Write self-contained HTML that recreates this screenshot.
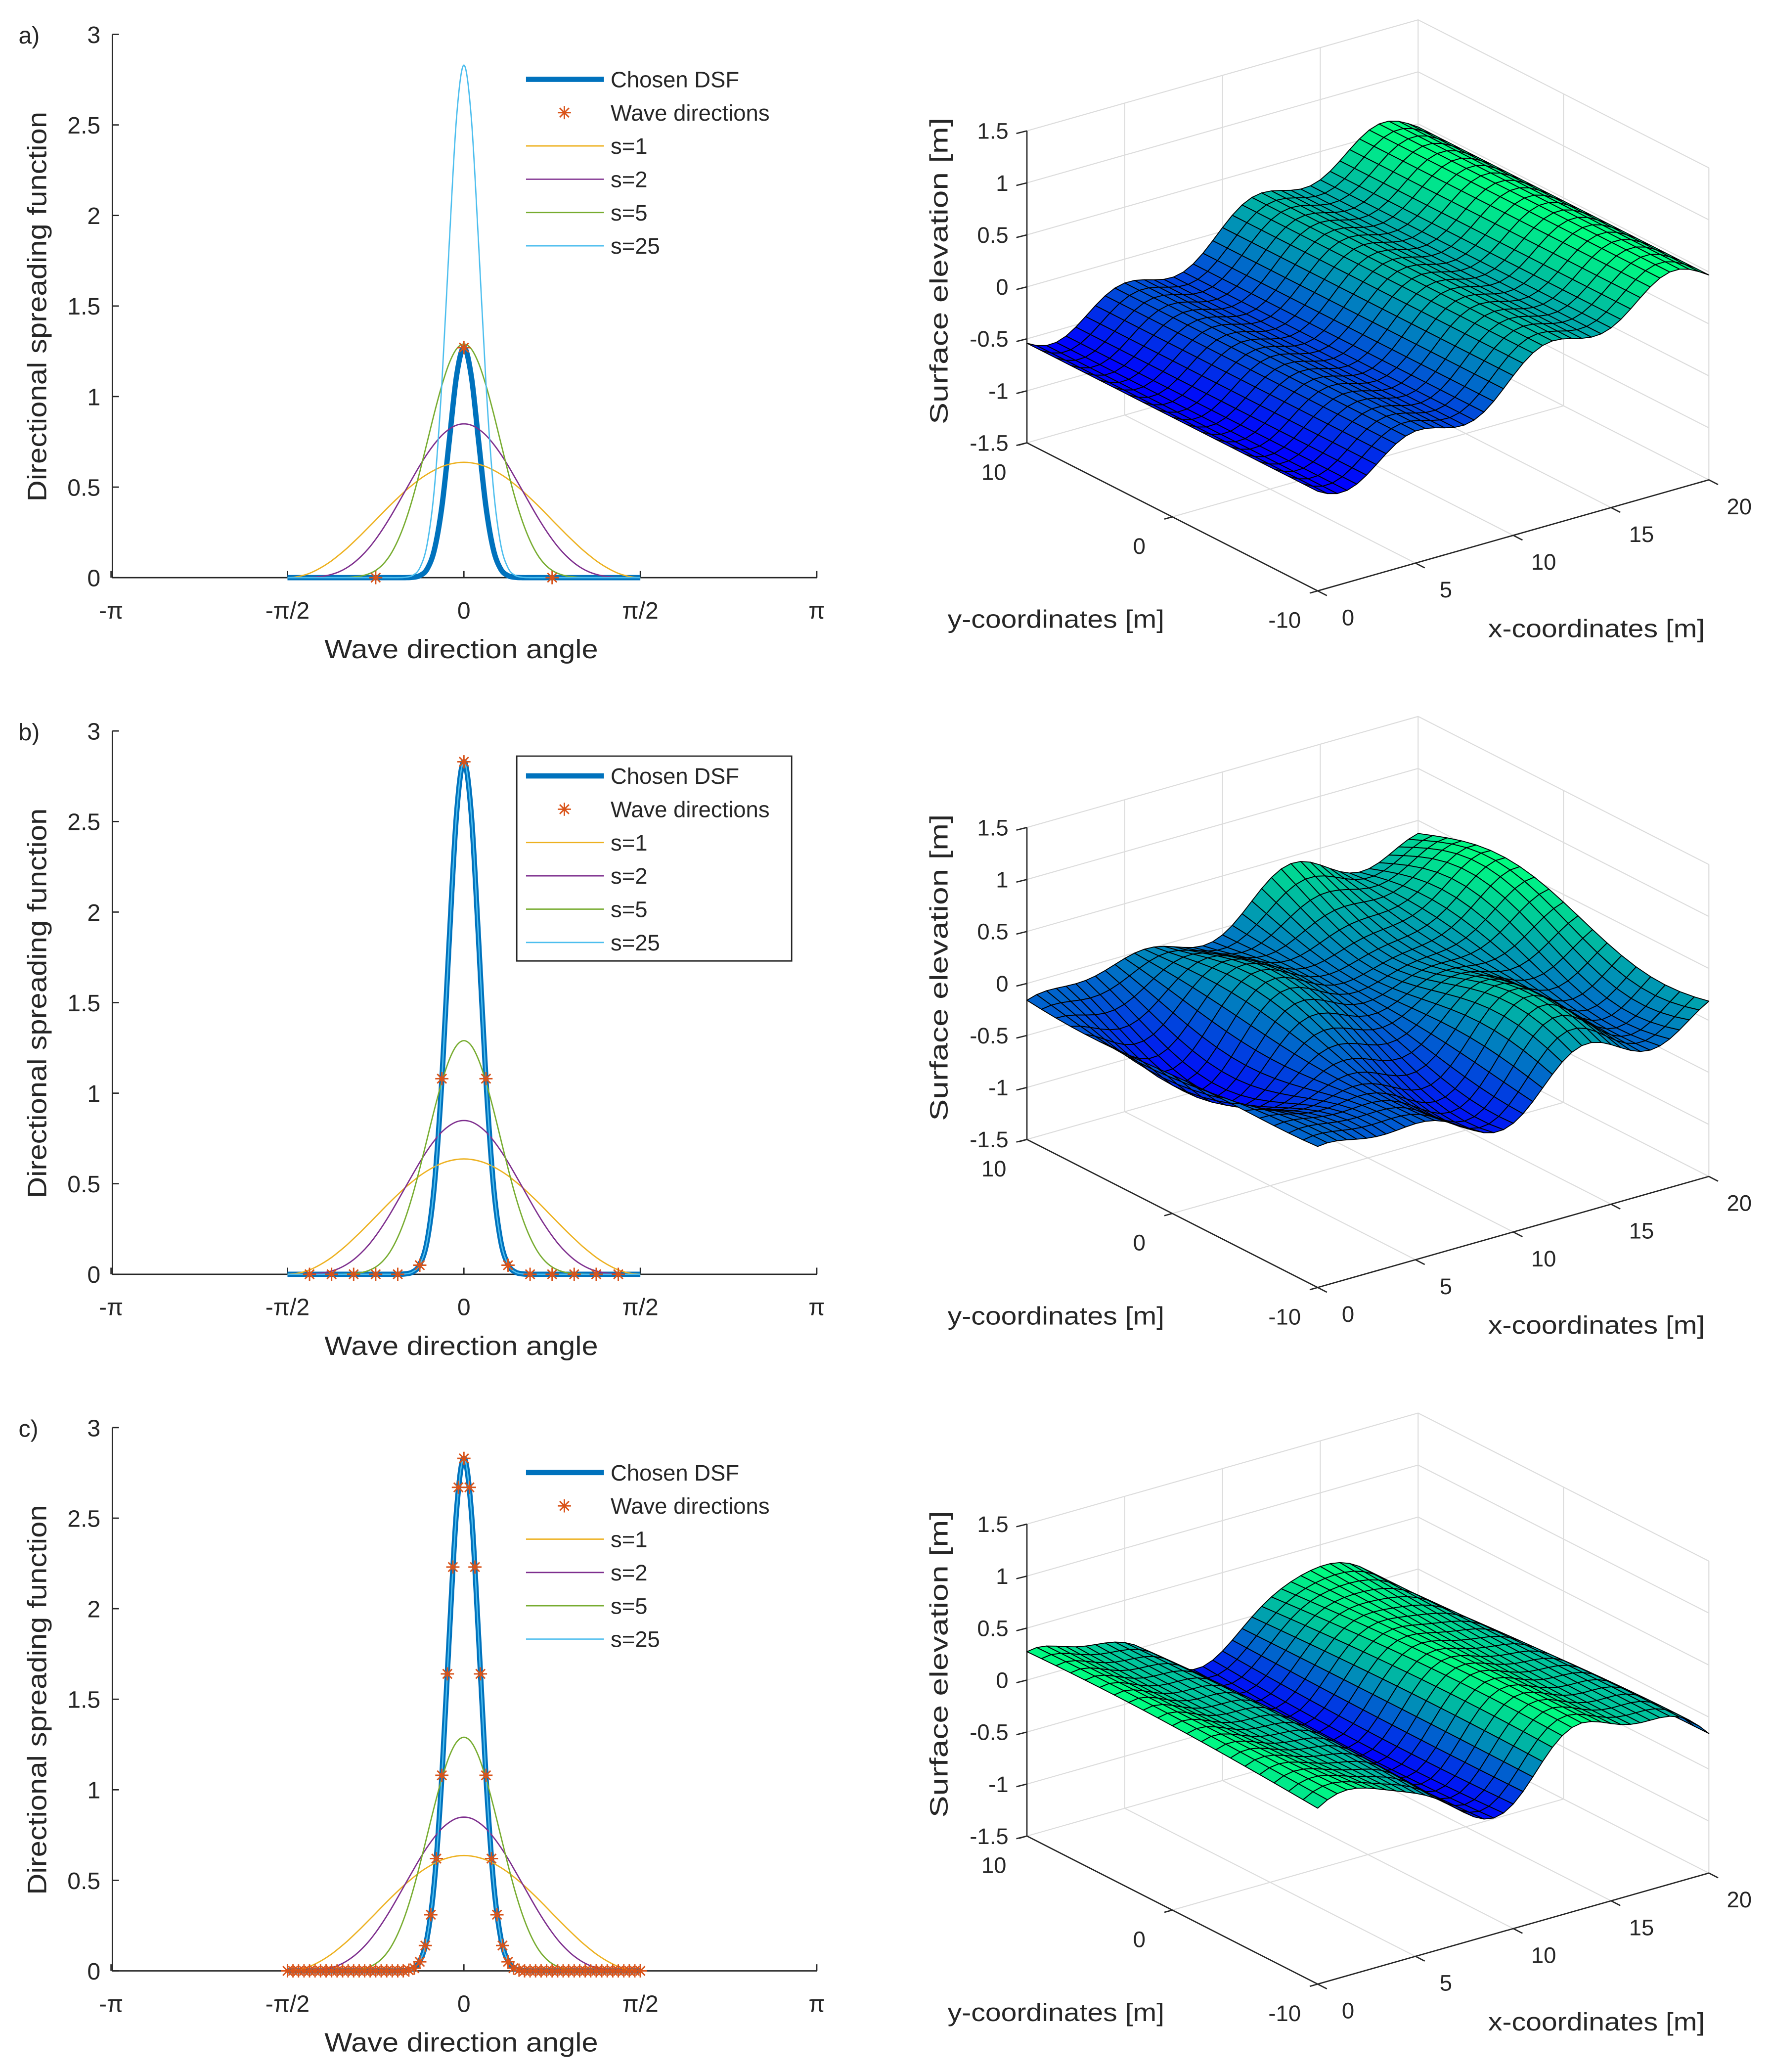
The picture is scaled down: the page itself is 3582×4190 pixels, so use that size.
<!DOCTYPE html>
<html><head><meta charset="utf-8">
<style>
html,body{margin:0;padding:0;background:#fff;}
svg{display:block;}
text{font-family:"Liberation Sans",Arial,sans-serif;fill:#262626;}
</style></head>
<body>
<svg id="fig" xmlns="http://www.w3.org/2000/svg" width="3582" height="4190" viewBox="0 0 1340 1567.5">
<rect x="0" y="0" width="1340" height="1567.5" fill="#fff"/>
</svg>
<script>
// ===== DSF chart data (angles in units of pi/48, half-profiles from 0 to pi/2) =====
const angleStepsHalf = [0,1,2,3,4,5,6,7,8,9,10,11,12,13,14,15,16,17,18,19,20,21,22,23,24];
const s1Values  = [.637,.634,.626,.613,.594,.571,.544,.512,.478,.440,.401,.360,.318,.277,.236,.197,.159,.125,.093,.066,.043,.024,.011,.003,0];
const s2Values  = [.849,.842,.820,.786,.739,.683,.619,.549,.478,.406,.336,.271,.212,.160,.117,.081,.053,.032,.018,.009,.004,.001,0,0,0];
const s5Values  = [1.29,1.263,1.184,1.062,.912,.748,.585,.434,.306,.204,.127,.074,.040,.020,.009,.004,.001,0,0,0,0,0,0,0,0];
const s25Values = [2.83,2.542,1.842,1.073,.500,.185,.054,.012,.002,0,0,0,0,0,0,0,0,0,0,0,0,0,0,0,0];
const chosenAValues = [1.27,1.114,.753,.391,.157,.048,.011,.002,0,0,0,0,0,0,0,0,0,0,0,0,0,0,0,0,0];
// wave direction markers (angle = k * pi / denom, value)
const starsAK = [-1,0,1];          const starsADen = 4;
const starsAV = [0,1.27,0];
const starsBK = [-7,-6,-5,-4,-3,-2,-1,0,1,2,3,4,5,6,7]; const starsBDen = 16;
const starsBV = [0,0,0,0,0,.05,1.08,2.83,1.08,.05,0,0,0,0,0];
const starsCHalf = [2.83,2.67,2.23,1.64,1.08,.62,.31,.14,.05,.015,.004,0,0,0,0,0,0,0,0,0,0,0,0,0,0,0,0,0,0,0,0,0,0];
const starsCDen = 64;
const yTicks = [0,0.5,1,1.5,2,2.5,3];
const yTickLabels = ['0','0.5','1','1.5','2','2.5','3'];
const xTicks = [-1,-0.5,0,0.5,1];
const xTickLabels = ['-\u03c0','-\u03c0/2','0','\u03c0/2','\u03c0'];
const legendLabels = ['Chosen DSF','Wave directions','s=1','s=2','s=5','s=25'];
// ===== surface wave components per panel =====
const surfAAmp=[0.5,0.13], surfALen=[40,6.7], surfADir=[0,0], surfAPh=[Math.PI,1.9];
const surfBAmp=[0.3,0.12,0.12,0.1], surfBLen=[40,7,10,9], surfBDir=[25,0,30,-25], surfBPh=[3.0,0.5,1,2];
const surfCAmp=[0.3,0.07,0.06], surfCLen=[13,6,7], surfCDir=[0,5,-6], surfCPh=[-0.967,0,1];
const zTicks=[-1.5,-1,-0.5,0,0.5,1,1.5];
const zTickLabels=['-1.5','-1','-0.5','0','0.5','1','1.5'];
const xGridTicks=[0,5,10,15,20];
const yGridTicks=[10,0,-10];

const NS='http://www.w3.org/2000/svg';
const svg=document.getElementById('fig');
function mk(tag,attrs,parent){const e=document.createElementNS(NS,tag);for(const k in attrs)e.setAttribute(k,attrs[k]);(parent||svg).appendChild(e);return e;}
function txt(str,attrs,parent){const e=mk('text',attrs,parent);e.textContent=str;return e;}

const COLORS={chosen:'#0072BD',s1:'#EDB120',s2:'#7E2F8E',s5:'#77AC30',s25:'#4DBEEE',star:'#D95319'};

function catmull(pts){
  let d='M'+pts[0][0].toFixed(2)+' '+pts[0][1].toFixed(2);
  for(let i=0;i<pts.length-1;i++){
    const p0=pts[Math.max(0,i-1)],p1=pts[i],p2=pts[i+1],p3=pts[Math.min(pts.length-1,i+2)];
    const c1=[p1[0]+(p2[0]-p0[0])/6,p1[1]+(p2[1]-p0[1])/6];
    const c2=[p2[0]-(p3[0]-p1[0])/6,p2[1]-(p3[1]-p1[1])/6];
    d+=' C'+c1[0].toFixed(2)+' '+c1[1].toFixed(2)+' '+c2[0].toFixed(2)+' '+c2[1].toFixed(2)+' '+p2[0].toFixed(2)+' '+p2[1].toFixed(2);
  }
  return d;
}
function mirror(half){const out=[];for(let i=half.length-1;i>0;i--)out.push(half[i]);return out.concat(half);}

function star(g,cx,cy,r){
  const e=mk('path',{d:`M${cx} ${cy-r}V${cy+r}M${cx-r} ${cy}H${cx+r}M${cx-r*.7} ${cy-r*.7}L${cx+r*.7} ${cy+r*.7}M${cx-r*.7} ${cy+r*.7}L${cx+r*.7} ${cy-r*.7}`,stroke:COLORS.star,'stroke-width':1.1,fill:'none'},g);
  return e;
}

function dsfPanel(off,label,chosenHalf,starAngles,starVals,box){
  const g=mk('g',{});
  
  
  const X=a=>351+a*(267/Math.PI);
  const Y=v=>437+off-v*137;
  const ax=mk('path',{d:`M85 ${Y(3)}V${Y(0)}H618`,stroke:'#262626','stroke-width':1,fill:'none'},g);
  
  
  yTicks.forEach((t,i)=>{
    const tk=mk('line',{x1:85,x2:90,y1:Y(t),y2:Y(t),stroke:'#262626','stroke-width':1},g);
    
    
    const tl=txt(yTickLabels[i],{x:76,y:Y(t)+6.5,'text-anchor':'end','font-size':18},g);
    
    
  });
  xTicks.forEach((t,i)=>{
    const xx=X(t*Math.PI);
    const tk=mk('line',{x1:xx,x2:xx,y1:Y(0),y2:Y(0)-5,stroke:'#262626','stroke-width':1},g);
    
    
    const tl=txt(xTickLabels[i],{x:xx,y:Y(0)+31,'text-anchor':'middle','font-size':18},g);
    
    
  });
  const xt=txt('Wave direction angle',{x:349,y:Y(0)+61,'text-anchor':'middle','font-size':20,textLength:207,lengthAdjust:'spacingAndGlyphs'},g);
  
  
  const yt=txt('Directional spreading function',{x:0,y:0,'text-anchor':'middle','font-size':20,textLength:295,lengthAdjust:'spacingAndGlyphs',transform:`translate(35 ${232+off}) rotate(-90)`},g);
  
  
  const pl=txt(label,{x:14,y:33+off,'font-size':18},g);
  
  
  const angs=mirror(angleStepsHalf).map((k,i)=> (i<24?-1:1)*k*Math.PI/48);
  function curve(half,color,w,name){
    const vals=mirror(half);
    const pts=angs.map((a,i)=>[X(a),Y(vals[i])]);
    const p=mk('path',{d:catmull(pts),stroke:color,'stroke-width':w,fill:'none','stroke-linejoin':'round'},g);
    
    
  }
  curve(chosenHalf,COLORS.chosen,4,'chosen-dsf-line');
  curve(s1Values,COLORS.s1,1,'s1-line');
  curve(s2Values,COLORS.s2,1,'s2-line');
  curve(s5Values,COLORS.s5,1,'s5-line');
  curve(s25Values,COLORS.s25,1,'s25-line');
  starAngles.forEach((a,i)=>{
    const s=star(g,X(a),Y(starVals[i]),5);
    
    
  });
  const lg=mk('g',{},g);
  
  
  if(box){
    const r=mk('rect',{x:391,y:572-527+off,width:208,height:155,fill:'#fff',stroke:'#262626','stroke-width':1},lg);
    
    
  }
  const lc=[COLORS.chosen,null,COLORS.s1,COLORS.s2,COLORS.s5,COLORS.s25];
  legendLabels.forEach((l,i)=>{
    const yy=60+off+i*25.2;
    if(lc[i]){
      const ln=mk('line',{x1:398,x2:457,y1:yy,y2:yy,stroke:lc[i],'stroke-width':i===0?4:1},lg);
      
      
    } else {
      const s=star(lg,427,yy,5);
      
      
    }
    const t=txt(l,{x:462,y:yy+6,'font-size':17,fill:'#000'},lg);
    
    
  });
}

const starsAAng=starsAK.map(k=>k*Math.PI/starsADen);
const starsBAng=starsBK.map(k=>k*Math.PI/starsBDen);
const starsCVals=mirror(starsCHalf);
const starsCAng=starsCVals.map((v,i)=>(i-32)*Math.PI/starsCDen);
dsfPanel(0,'a)',chosenAValues,starsAAng,starsAV,false);
dsfPanel(527,'b)',s25Values,starsBAng,starsBV,true);
dsfPanel(1054,'c)',s25Values,starsCAng,starsCVals,false);

function surfPanel(off,name,amp,len,dir,ph){
  const g=mk('g',{});
  
  
  const P=(x,y,z)=>[777+14.8*x+11*(10-y), 335+off-4.2*x+5.6*(10-y)-78.667*(z+1.5)];
  const pt=p=>p[0].toFixed(2)+' '+p[1].toFixed(2);
  let d='';
  zTicks.forEach(z=>{d+='M'+pt(P(0,10,z))+'L'+pt(P(20,10,z))+'L'+pt(P(20,-10,z));});
  xGridTicks.forEach(x=>{d+='M'+pt(P(x,10,-1.5))+'L'+pt(P(x,10,1.5))+'M'+pt(P(x,10,-1.5))+'L'+pt(P(x,-10,-1.5));});
  yGridTicks.forEach(y=>{d+='M'+pt(P(20,y,-1.5))+'L'+pt(P(20,y,1.5))+'M'+pt(P(0,y,-1.5))+'L'+pt(P(20,y,-1.5));});
  const gr=mk('path',{d:d,stroke:'#dcdcdc','stroke-width':0.8,fill:'none'},g);
  
  
  const axd='M'+pt(P(0,10,1.5))+'L'+pt(P(0,10,-1.5))+'L'+pt(P(0,-10,-1.5))+'L'+pt(P(20,-10,-1.5));
  const axp=mk('path',{d:axd,stroke:'#262626','stroke-width':1,fill:'none'},g);
  
  
  let td='';
  zTicks.forEach((z,i)=>{const a=P(0,10,z);td+=`M${pt(a)}l-8 2`;
    const t=txt(zTickLabels[i],{x:a[0]-14,y:a[1]+6,'text-anchor':'end','font-size':17},g);
    
    });
  yGridTicks.forEach(y=>{const a=P(0,y,-1.5);td+=`M${pt(a)}l-6 1.7`;
    const t=txt(String(y),{x:a[0]-25,y:a[1]+28,'text-anchor':'middle','font-size':17},g);
    
    });
  xGridTicks.forEach(x=>{const a=P(x,-10,-1.5);td+=`M${pt(a)}l7 3.6`;
    const t=txt(String(x),{x:a[0]+23,y:a[1]+26,'text-anchor':'middle','font-size':17},g);
    
    });
  const tk=mk('path',{d:td,stroke:'#262626','stroke-width':1,fill:'none'},g);
  
  
  const zt=txt('Surface elevation [m]',{x:0,y:0,'text-anchor':'middle','font-size':19,textLength:232,lengthAdjust:'spacingAndGlyphs',transform:`translate(717 ${205+off}) rotate(-90)`},g);
  
  
  const yt=txt('y-coordinates [m]',{x:799,y:475+off,'text-anchor':'middle','font-size':19,textLength:164,lengthAdjust:'spacingAndGlyphs'},g);
  
  
  const xt=txt('x-coordinates [m]',{x:1208,y:482+off,'text-anchor':'middle','font-size':19,textLength:164,lengthAdjust:'spacingAndGlyphs'},g);
  
  
  const NX=40,NY=20;
  const Z=(x,y)=>{let s=0;for(let i=0;i<amp.length;i++){const k=2*Math.PI/len[i],th=dir[i]*Math.PI/180;s+=amp[i]*Math.cos(k*(x*Math.cos(th)+y*Math.sin(th))+ph[i]);}return s;};
  const zs=[];let zmin=1e9,zmax=-1e9;
  for(let i=0;i<=NX;i++){zs.push([]);for(let j=0;j<=NY;j++){const v=Z(i*20/NX,-10+j*20/NY);zs[i].push(v);zmin=Math.min(zmin,v);zmax=Math.max(zmax,v);}}
  const quads=[];
  for(let i=0;i<NX;i++)for(let j=0;j<NY;j++)quads.push([i,j]);
  quads.sort((a,b)=>(b[0]+b[1]*2)-(a[0]+a[1]*2));
  const sg=mk('g',{stroke:'#000','stroke-width':0.7,'stroke-linejoin':'round'},g);
  
  
  quads.forEach(([i,j])=>{
    const x0=i*20/NX,x1=(i+1)*20/NX,y0=-10+j*20/NY,y1=-10+(j+1)*20/NY;
    const zc=(zs[i][j]+zs[i+1][j]+zs[i][j+1]+zs[i+1][j+1])/4;
    const t=(zc-zmin)/(zmax-zmin);
    const col=`rgb(0,${Math.round(255*t)},${Math.round(255*(1-0.5*t))})`;
    const q=mk('path',{d:'M'+pt(P(x0,y0,zs[i][j]))+'L'+pt(P(x1,y0,zs[i+1][j]))+'L'+pt(P(x1,y1,zs[i+1][j+1]))+'L'+pt(P(x0,y1,zs[i][j+1]))+'Z',fill:col},sg);
    
    
  });
}
surfPanel(0,'surface-plot-a',surfAAmp,surfALen,surfADir,surfAPh);
surfPanel(527,'surface-plot-b',surfBAmp,surfBLen,surfBDir,surfBPh);
surfPanel(1054,'surface-plot-c',surfCAmp,surfCLen,surfCDir,surfCPh);
</script>
</body></html>
